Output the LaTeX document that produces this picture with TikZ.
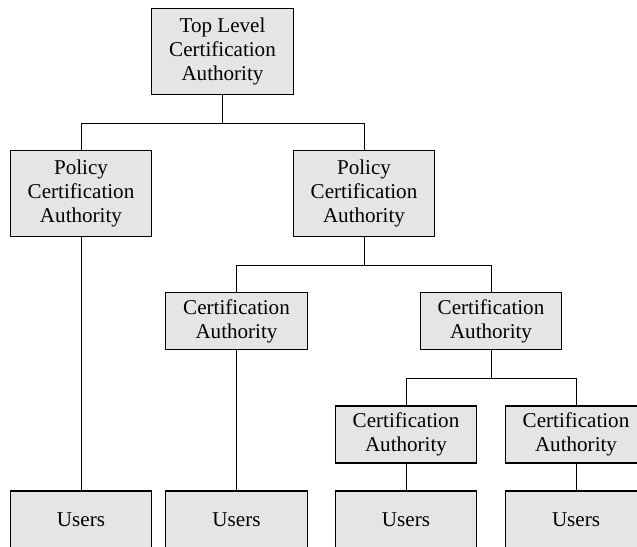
\documentclass[tikz,border=0pt]{standalone}
\usepackage{fontspec}
\setmainfont{Liberation Serif}
\usetikzlibrary{positioning}

\begin{document}
\begin{tikzpicture}[
    box/.style={draw, line width=0.6pt, fill=gray!20, align=center,
      minimum width=2.83cm, inner sep=0pt,
      font=\fontsize{12}{13.7}\selectfont},
    tall/.style={box, minimum height=1.72cm},
    flat/.style={box, minimum height=1.14cm},
    line width=0.55pt]
      \useasboundingbox (0,0) rectangle (12.74,-10.92);
      % root and policy level
      \node[tall] (TL) at (4.45,-1.025) {Top Level\\Certification\\Authority};
      \node[tall] (PA) at (1.62,-3.87) {Policy\\Certification\\Authority};
      \node[tall] (PB) at (7.28,-3.87) {Policy\\Certification\\Authority};
      % certification authorities
      \node[flat] (CA) at (4.73,-6.42) {Certification\\Authority};
      \node[flat] (CB) at (9.82,-6.42) {Certification\\Authority};
      \node[flat] (CC) at (8.12,-8.69) {Certification\\Authority};
      \node[flat] (CD) at (11.52,-8.69) {Certification\\Authority};
      % users
      \node[flat] (UA) at (1.62,-10.39) {Users};
      \node[flat] (UB) at (4.73,-10.39) {Users};
      \node[flat] (UC) at (8.12,-10.39) {Users};
      \node[flat] (UD) at (11.52,-10.39) {Users};
      \draw (TL.south) -- ++(0,-0.565) -| (PA.north);
      \draw (TL.south) -- ++(0,-0.565) -| (PB.north);
      \draw (PB.south) -- ++(0,-0.565) -| (CA.north);
      \draw (PB.south) -- ++(0,-0.565) -| (CB.north);
      \draw (CB.south) -- ++(0,-0.565) -| (CC.north);
      \draw (CB.south) -- ++(0,-0.565) -| (CD.north);
      \draw (PA) -- (UA);
      \draw (CA) -- (UB);
      \draw (CC) -- (UC);
      \draw (CD) -- (UD);
    \end{tikzpicture}
\end{document}
